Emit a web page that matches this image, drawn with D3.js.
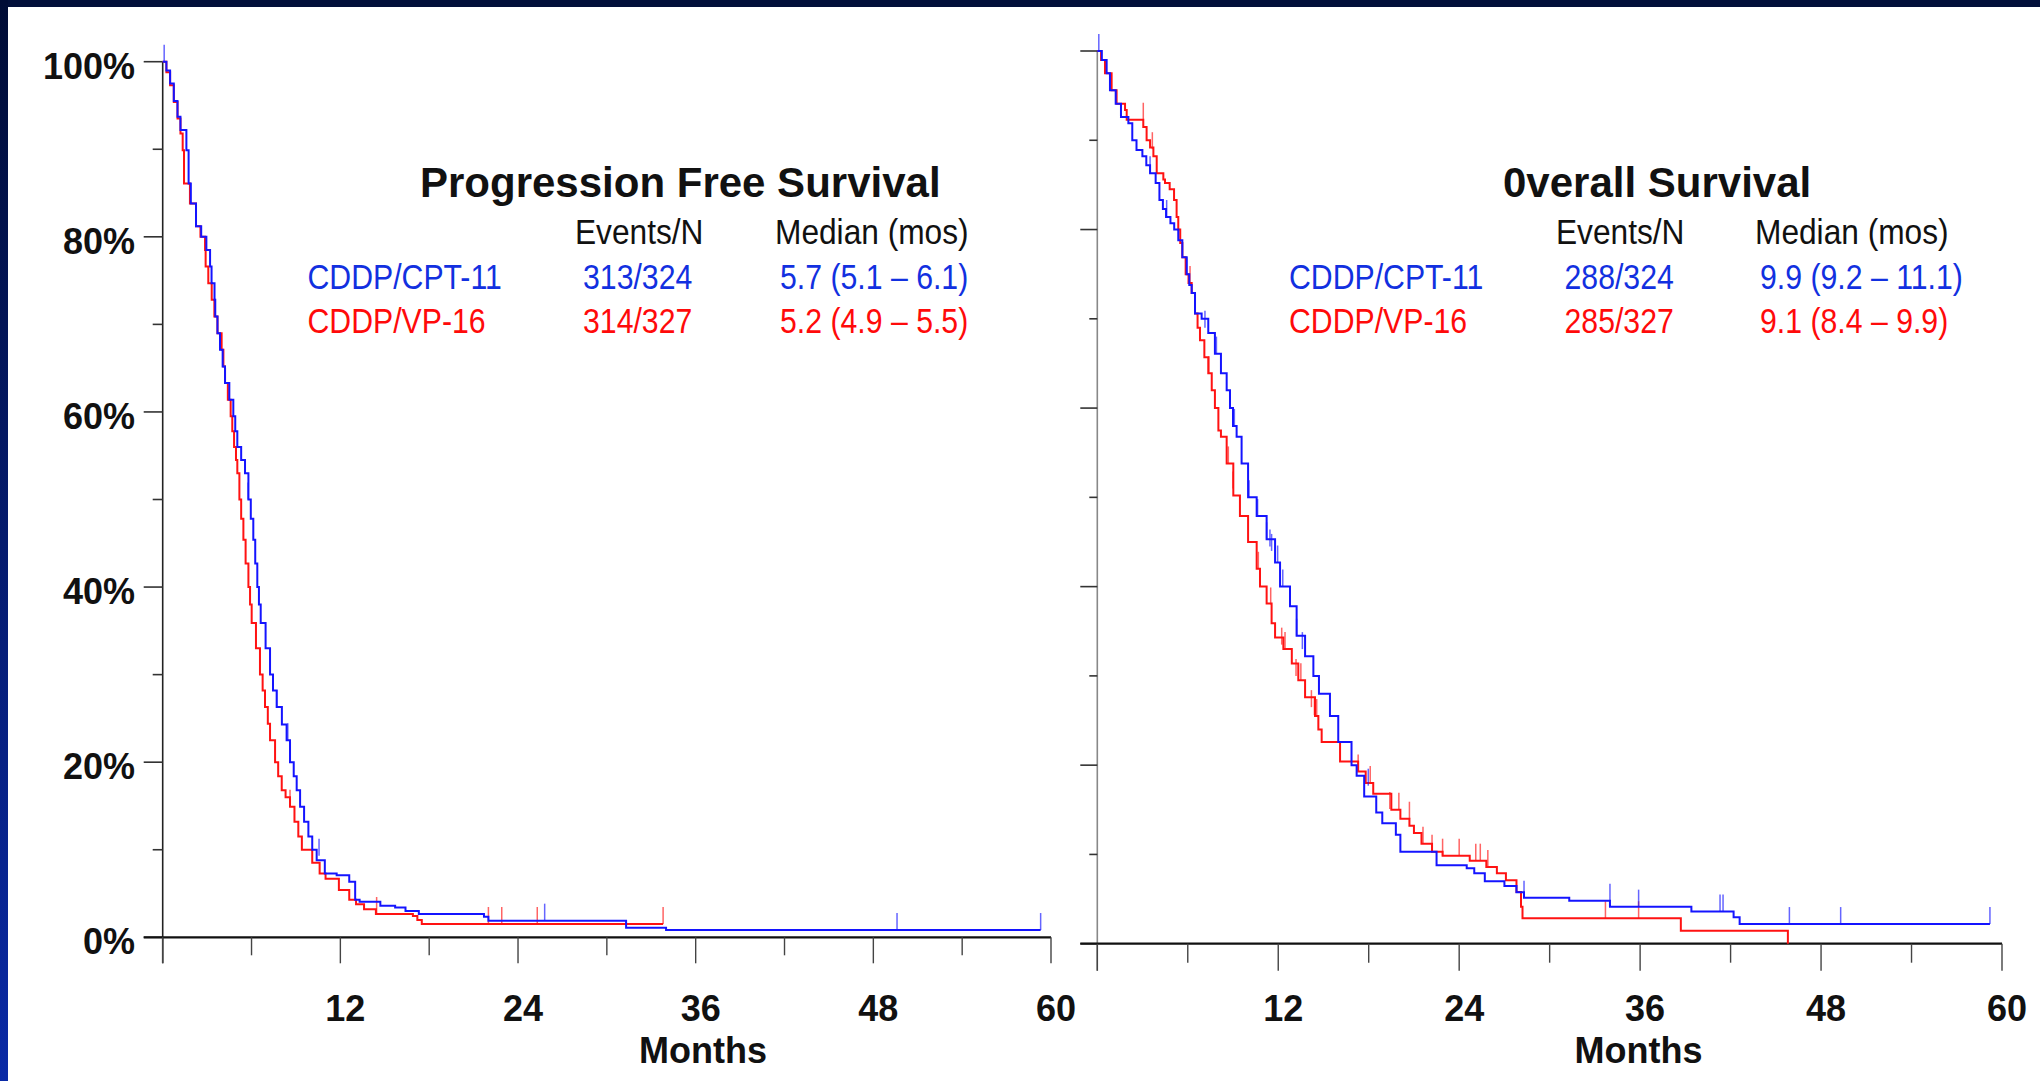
<!DOCTYPE html>
<html>
<head>
<meta charset="utf-8">
<script src="https://cdnjs.cloudflare.com/ajax/libs/d3/7.8.5/d3.min.js"></script>
<style>
  html, body { margin: 0; padding: 0; background: #020f3a; }
  svg { display: block; }
</style>
</head>
<body>
<div id="chart"></div>
<script>
// ---- data (months, survival %) ----
var pfsCpt = [[0,100],[0.25,99],[0.5,97.5],[0.75,95.5],[1.0,93.7],[1.2,92.2],[1.6,89.9],[1.75,86.1],[1.9,83.8],
  [2.25,81.2],[2.6,80.0],[2.95,78.5],[3.2,76.6],[3.3,74.7],[3.5,72.8],[3.55,70.9],[3.7,69],[3.87,67.1],[4.05,65.2],
  [4.21,63.3],[4.5,61.4],[4.77,59.5],[4.9,57.8],[5.04,56.0],[5.3,54.5],[5.56,53.0],[5.79,50.0],[5.95,47.8],[6.12,45.4],
  [6.25,42.7],[6.39,40],[6.5,38],[6.62,35.9],[6.95,33],[7.25,30.0],[7.45,28.2],[7.7,26.3],[8.05,24.3],[8.37,22.5],
  [8.6,20],[8.85,18.4],[9.05,16.8],[9.28,14.9],[9.55,13.2],[9.84,11.5],[10.1,10.0],[10.4,8.8],[10.95,7.3],[11.75,7.1],
  [12.6,6.35],[13.0,4.3],[13.3,4.07],[14.7,3.6],[15.7,3.4],[16.4,3.0],[17.3,2.66],[21.7,2.35],[22.0,1.9],[31.3,1.1],
  [34.0,0.83],[59.3,0.83]];
var pfsVp = [[0,100],[0.25,98.8],[0.5,97.3],[0.75,95.4],[1.0,93.5],[1.2,91.8],[1.35,89.9],[1.44,86.1],[1.84,83.8],
  [2.25,81.2],[2.55,80.0],[2.86,78.5],[2.9,76.6],[3.08,74.7],[3.31,72.8],[3.49,70.9],[3.7,69],[3.98,67.1],[4.1,65.2],
  [4.21,63.3],[4.4,61.4],[4.59,59.5],[4.7,57.8],[4.82,56.0],[4.95,54.5],[5.04,53.0],[5.18,50.0],[5.3,47.8],[5.45,45.4],
  [5.6,42.7],[5.79,40],[5.9,38],[6.01,35.9],[6.3,33],[6.57,30.0],[6.75,28.2],[6.91,26.3],[7.1,24.4],[7.25,22.5],
  [7.59,20],[7.8,18.4],[8.04,16.8],[8.3,16.0],[8.6,14.9],[8.9,13.2],[9.16,11.5],[9.4,10.0],[10.1,8.5],[10.6,7.3],
  [11.0,6.7],[11.9,5.4],[12.6,4.3],[13.06,3.77],[13.6,3.2],[14.4,2.66],[16.9,2.43],[17.2,1.98],[17.5,1.52],[33.8,1.52]];
var osCpt = [[0,100],[0.3,99],[0.62,97.5],[0.84,95.6],[1.22,94.1],[1.57,92.6],[2.06,91.9],[2.32,90.0],[2.6,88.9],
  [2.99,88.2],[3.25,87.2],[3.5,86.3],[3.87,85.2],[4.12,83.3],[4.35,82.3],[4.56,81.4],[4.85,80.7],[5.1,80],[5.37,78.8],
  [5.64,76.9],[5.93,75.0],[6.1,73.8],[6.26,72.9],[6.48,70.6],[6.92,70],[7.36,68.4],[7.8,66.1],[8.2,63.9],[8.58,62.0],
  [8.8,60.0],[9.0,58.0],[9.24,56.8],[9.57,53.8],[10.0,50.0],[10.57,47.9],[11.23,45.3],[11.79,42.7],[12.12,40],
  [12.78,37.8],[13.22,34.5],[13.78,32.2],[14.33,30.0],[14.7,28.0],[15.43,25.5],[15.98,22.6],[16.86,20.0],[17.2,18.8],
  [17.7,16.5],[18.5,14.7],[18.9,13.5],[19.8,12.2],[20.1,10.3],[22.5,8.8],[24.5,8.45],[25.0,7.9],[25.7,7.0],[27.0,6.46],
  [27.8,5.75],[28.3,5.15],[31.3,4.8],[34.0,4.15],[39.4,3.6],[42.2,2.95],[42.6,2.2],[59.2,2.2]];
var osVp = [[0,100],[0.25,99],[0.51,97.5],[0.95,95.6],[1.28,94.1],[1.84,93.4],[1.95,92.3],[3.05,91.5],[3.27,90],
  [3.5,89.2],[3.72,88.2],[3.94,86.3],[4.38,85.6],[4.49,85.2],[4.8,84.5],[5.09,83.3],[5.26,81.4],[5.37,80],[5.5,78.5],
  [5.64,76.9],[5.86,75.0],[6.05,74],[6.26,72.9],[6.48,70.6],[6.65,69],[6.81,67.6],[7.1,65.7],[7.36,63.9],[7.59,62.0],
  [7.8,60],[8.03,57.5],[8.2,56.8],[8.58,53.8],[9.02,50.2],[9.46,47.9],[10.0,45.0],[10.57,42.0],[10.79,40],[11.23,38.1],
  [11.56,35.9],[11.79,34.3],[12.34,33.0],[12.9,31.4],[13.33,29.5],[13.78,27.6],[14.44,25.5],[14.66,24.0],[14.88,22.6],
  [16.1,20.4],[17.3,19.3],[17.8,18.0],[18.3,16.8],[19.5,15.0],[20.1,14.0],[20.7,13.2],[21.0,12.4],[21.5,11.2],
  [22.2,10.3],[22.9,9.86],[24.7,9.3],[25.8,8.6],[26.5,7.9],[27.1,7.1],[27.8,5.8],[28.1,4.15],[28.2,2.85],[38.7,1.46],
  [45.8,0]];

// censored observations (month, survival % at that time)
var pfsCptCensor = [[0.1,100],[5.77,50],[7.7,26.3],[8.45,22.5],[10.56,9.3],[25.8,1.9],[49.6,0.83],[59.3,0.83]];
var pfsVpCensor = [[8.6,14.9],[14.45,2.66],[22.0,1.52],[22.9,1.52],[25.3,1.52],[33.8,1.52]];
var osCptCensor = [[0.1,100],[3.5,86.3],[4.6,81.4],[5.93,75],[7.14,69],[7.9,66.1],[8.8,60],[9.09,58],[10.06,50],
  [10.63,47.9],[11.23,45.3],[11.45,44.5],[11.56,44],[11.96,42.7],[12.3,40],[13.22,34.5],[13.6,33],[17.97,17.7],
  [28.3,5.15],[34.0,4.8],[35.9,4.15],[41.3,3.6],[41.5,3.6],[45.9,2.2],[49.3,2.2],[59.2,2.2]];
var osVpCensor = [[3.05,92.3],[3.65,89],[6.15,74],[7.4,63.9],[8.69,53.8],[9.0,51],[10.68,42],[11.5,38],[12.23,33.5],
  [12.45,33],[13.18,30],[13.5,29.5],[14.2,26.5],[14.4,25.6],[14.55,25.5],[17.3,19.3],[18.1,18],[19.4,15.1],[20.0,15],
  [20.7,14],[21.6,11.2],[22.2,10.3],[22.9,9.86],[24.0,9.86],[25.1,9.3],[25.4,9.3],[25.9,8.6],[33.7,2.85],[35.9,2.85]];

var xTicks = [0, 6, 12, 18, 24, 30, 36, 42, 48, 54, 60];
var xLabels = [12, 24, 36, 48, 60];
var yTicks = [0, 10, 20, 30, 40, 50, 60, 70, 80, 90, 100];
var yLabels = [0, 20, 40, 60, 80, 100];

var legendHeader = ["Events/N", "Median (mos)"];
var pfsLegend = [["CDDP/CPT-11", "313/324", "5.7 (5.1 \u2013 6.1)"], ["CDDP/VP-16", "314/327", "5.2 (4.9 \u2013 5.5)"]];
var osLegend = [["CDDP/CPT-11", "288/324", "9.9 (9.2 \u2013 11.1)"], ["CDDP/VP-16", "285/327", "9.1 (8.4 \u2013 9.9)"]];

// ---- drawing ----
var width = 2040, height = 1081;
var blue = "#1414ff", red = "#ff1212";
var blueText = "#1230e0", redText = "#ff0a0a";

var svg = d3.select("#chart").append("svg")
  .attr("width", width)
  .attr("height", height);

var defs = svg.append("defs");
var grad = defs.append("linearGradient").attr("id", "edge").attr("x1", 0).attr("y1", 0).attr("x2", 0).attr("y2", 1);
grad.append("stop").attr("offset", "0%").attr("stop-color", "#000c35");
grad.append("stop").attr("offset", "100%").attr("stop-color", "#0a2aa6");

svg.append("rect").attr("width", width).attr("height", height).style("fill", "#020f3a");
svg.append("rect").attr("width", 8).attr("height", height).style("fill", "url(#edge)");
svg.append("rect").attr("x", 8).attr("y", 7).attr("width", width - 8).attr("height", height - 7).style("fill", "#ffffff");

function condensed(g, txt, x, y, color, sx) {
  g.append("text")
    .attr("transform", "translate(" + x + "," + y + ") scale(" + (sx || 0.84) + ",1)")
    .style("font-family", "'Liberation Sans', Arial, sans-serif")
    .style("font-size", "36px")
    .style("fill", color)
    .text(txt);
}

function drawPanel(p) {
  var g = svg.append("g");
  var x = d3.scaleLinear().domain([0, 60]).range([p.x0, p.x1]);
  var y = d3.scaleLinear().domain([0, 100]).range([p.yBase, p.yTop]);

  // y axis
  g.append("line").attr("x1", x(0)).attr("x2", x(0)).attr("y1", y(100)).attr("y2", y(0) + p.longTick)
    .style("stroke", p.axisColor).style("stroke-width", 1.6);
  g.selectAll(".ytick").data(yTicks).enter().append("line")
    .attr("x1", function(d) { return x(0) - (d % 20 === 0 ? p.yMajor : p.yMinor); })
    .attr("x2", x(0))
    .attr("y1", function(d) { return y(d); })
    .attr("y2", function(d) { return y(d); })
    .style("stroke", "#333").style("stroke-width", 1.6);

  // x axis
  g.append("line").attr("x1", x(0) - p.yMajor).attr("x2", x(60)).attr("y1", y(0)).attr("y2", y(0))
    .style("stroke", "#111").style("stroke-width", 2.2);
  g.selectAll(".xtick").data(xTicks).enter().append("line")
    .attr("x1", function(d) { return x(d); })
    .attr("x2", function(d) { return x(d); })
    .attr("y1", y(0))
    .attr("y2", function(d) { return y(0) + (d % 12 === 0 ? p.longTick : p.shortTick); })
    .style("stroke", "#444").style("stroke-width", 1.4);

  g.selectAll(".xlabel").data(xLabels).enter().append("text")
    .attr("x", function(d) { return x(d) + 5; })
    .attr("y", 1020.5)
    .attr("text-anchor", "middle")
    .style("font-family", "'Liberation Sans', Arial, sans-serif")
    .style("font-weight", "bold").style("font-size", "36px").style("fill", "#111")
    .text(function(d) { return d; });

  g.append("text")
    .attr("x", p.monthsX).attr("y", 1063)
    .attr("text-anchor", "middle")
    .style("font-family", "'Liberation Sans', Arial, sans-serif")
    .style("font-weight", "bold").style("font-size", "36px").style("fill", "#111")
    .text("Months");

  if (p.yLabelsOn) {
    g.selectAll(".ylabel").data(yLabels).enter().append("text")
      .attr("x", 135)
      .attr("y", function(d) { return y(d) + 17; })
      .attr("text-anchor", "end")
      .style("font-family", "'Liberation Sans', Arial, sans-serif")
      .style("font-weight", "bold").style("font-size", "36px").style("fill", "#111")
      .text(function(d) { return d + "%"; });
  }

  // curves
  var line = d3.line()
    .x(function(d) { return x(d[0]); })
    .y(function(d) { return y(d[1]); })
    .curve(d3.curveStepAfter);

  p.series.forEach(function(s) {
    g.selectAll(null).data(s.censor).enter().append("line")
      .attr("x1", function(d) { return x(d[0]); })
      .attr("x2", function(d) { return x(d[0]); })
      .attr("y1", function(d) { return y(d[1]); })
      .attr("y2", function(d) { return y(d[1]) - 17; })
      .style("stroke", s.color).style("stroke-width", 1.5).style("opacity", 0.65);
    g.append("path").datum(s.data)
      .attr("d", line)
      .style("fill", "none")
      .style("stroke", s.color)
      .style("stroke-width", 2);
  });

  // title + legend table
  g.append("text")
    .attr("x", p.titleX).attr("y", 197)
    .style("font-family", "'Liberation Sans', Arial, sans-serif")
    .style("font-weight", "bold").style("font-size", "42px").style("fill", "#111")
    .text(p.title);

  condensed(g, legendHeader[0], p.colEventsHead, 244, "#111", 0.88);
  condensed(g, legendHeader[1], p.colMedianHead, 244, "#111", 0.88);
  p.legend.forEach(function(row, i) {
    var c = i === 0 ? blueText : redText;
    var yy = 288.5 + i * 44.5;
    condensed(g, row[0], p.colName, yy, c);
    condensed(g, row[1], p.colEvents, yy, c);
    condensed(g, row[2], p.colMedian, yy, c);
  });
}

drawPanel({
  x0: 162.7, x1: 1051, yBase: 937.3, yTop: 61.7,
  yMajor: 19, yMinor: 10, longTick: 26, shortTick: 18,
  axisColor: "#222", yLabelsOn: true, monthsX: 703,
  title: "Progression Free Survival", titleX: 420,
  colName: 307.5, colEvents: 583, colEventsHead: 575, colMedian: 780, colMedianHead: 775,
  legend: pfsLegend,
  series: [
    { data: pfsVp, censor: pfsVpCensor, color: red },
    { data: pfsCpt, censor: pfsCptCensor, color: blue }
  ]
});

drawPanel({
  x0: 1097.3, x1: 2002, yBase: 943.7, yTop: 51,
  yMajor: 17, yMinor: 8, longTick: 27, shortTick: 19,
  axisColor: "#888", yLabelsOn: false, monthsX: 1638.5,
  title: "0verall Survival", titleX: 1503,
  colName: 1289, colEvents: 1564.5, colEventsHead: 1556, colMedian: 1760, colMedianHead: 1755,
  legend: osLegend,
  series: [
    { data: osVp, censor: osVpCensor, color: red },
    { data: osCpt, censor: osCptCensor, color: blue }
  ]
});
</script>
</body>
</html>
